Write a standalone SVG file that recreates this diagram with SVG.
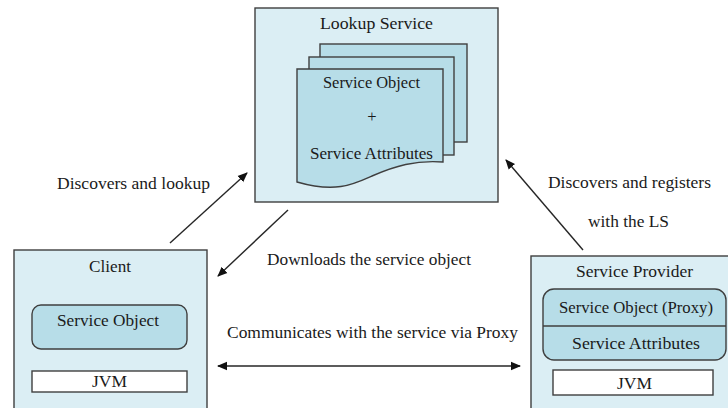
<svg xmlns="http://www.w3.org/2000/svg" width="728" height="408" viewBox="0 0 728 408" font-family="'Liberation Serif', 'Times New Roman', serif">
<defs>
<style>
.box{fill:#dbeef4;stroke:#3f3f3f;stroke-width:1.4}
.inner{fill:#b7dde8;stroke:#3f3f3f;stroke-width:1.4}
.white{fill:#ffffff;stroke:#3f3f3f;stroke-width:1.4}
.conn{stroke:#262626;stroke-width:1.4;fill:none}
.t{font-family:'Liberation Serif','Times New Roman',serif;font-size:16.5px;fill:#1a1a1a}
</style>
<marker id="ah" viewBox="0 0 10 10" refX="9" refY="5" markerWidth="10" markerHeight="10" markerUnits="userSpaceOnUse" orient="auto-start-reverse">
<path d="M0,0.8 L10,5 L0,9.2 Z" fill="#111"/>
</marker>
</defs>
<rect width="728" height="408" fill="#ffffff"/>

<g id="lookup-service">
<rect class="box" x="255" y="8" width="243" height="194"/>
<text class="t" x="376.5" y="29" text-anchor="middle" textLength="113" lengthAdjust="spacingAndGlyphs">Lookup Service</text>
<rect class="inner" x="320" y="44" width="147" height="98"/>
<rect class="inner" x="309" y="57" width="145" height="98"/>
<path class="inner" d="M297,69 H443 V162 C415,160 395,166 372,176 C352,185 335,193 297,182 Z"/>
<text class="t" x="371.5" y="88" text-anchor="middle" textLength="97" lengthAdjust="spacingAndGlyphs">Service Object</text>
<text class="t" x="372" y="122" text-anchor="middle">+</text>
<text class="t" x="371.5" y="159" text-anchor="middle" textLength="123" lengthAdjust="spacingAndGlyphs">Service Attributes</text>
</g>

<g id="client">
<rect class="box" x="14" y="250" width="193" height="170"/>
<text class="t" x="110" y="272" text-anchor="middle" textLength="42" lengthAdjust="spacingAndGlyphs">Client</text>
<rect class="inner" x="32" y="305" width="155" height="44" rx="9"/>
<text class="t" x="108" y="326" text-anchor="middle" textLength="102" lengthAdjust="spacingAndGlyphs">Service Object</text>
<rect class="white" x="32" y="371" width="155" height="21"/>
<text class="t" x="109.5" y="387" text-anchor="middle" textLength="35" lengthAdjust="spacingAndGlyphs">JVM</text>
</g>

<g id="service-provider">
<rect class="box" x="531" y="256" width="210" height="170"/>
<text class="t" x="634.5" y="277" text-anchor="middle" textLength="117" lengthAdjust="spacingAndGlyphs">Service Provider</text>
<rect class="inner" x="543" y="289" width="183" height="71" rx="11"/>
<line x1="543" y1="326" x2="726" y2="326" stroke="#3f3f3f" stroke-width="1.4"/>
<text class="t" x="636" y="313" text-anchor="middle" textLength="154" lengthAdjust="spacingAndGlyphs">Service Object (Proxy)</text>
<text class="t" x="636" y="349" text-anchor="middle" textLength="128" lengthAdjust="spacingAndGlyphs">Service Attributes</text>
<rect class="white" x="553" y="370" width="160" height="25"/>
<text class="t" x="634.5" y="389" text-anchor="middle" textLength="35" lengthAdjust="spacingAndGlyphs">JVM</text>
</g>

<g id="connectors">
<line class="conn" x1="170" y1="243" x2="247" y2="173" marker-end="url(#ah)"/>
<line class="conn" x1="288" y1="210" x2="218" y2="276" marker-end="url(#ah)"/>
<line class="conn" x1="583" y1="250" x2="506" y2="160" marker-end="url(#ah)"/>
<line class="conn" x1="218" y1="366" x2="520" y2="366" marker-start="url(#ah)" marker-end="url(#ah)"/>
</g>

<g id="labels">
<text class="t" x="57" y="189" textLength="153" lengthAdjust="spacingAndGlyphs">Discovers and lookup</text>
<text class="t" x="267" y="265" textLength="204" lengthAdjust="spacingAndGlyphs">Downloads the service object</text>
<text class="t" x="548" y="188" textLength="163" lengthAdjust="spacingAndGlyphs">Discovers and registers</text>
<text class="t" x="588" y="227" textLength="81" lengthAdjust="spacingAndGlyphs">with the LS</text>
<text class="t" x="227" y="338" textLength="291" lengthAdjust="spacingAndGlyphs">Communicates with the service via Proxy</text>
</g>
</svg>
